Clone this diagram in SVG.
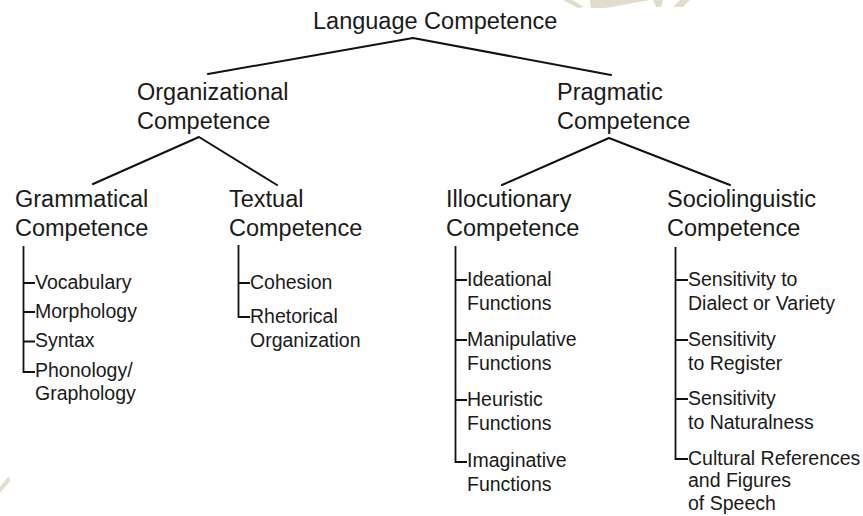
<svg xmlns="http://www.w3.org/2000/svg" width="863" height="516" viewBox="0 0 863 516">
<style>
.h{font-family:"Liberation Sans",Arial,sans-serif;font-size:23.5px;fill:#1a1a1a}
.i{font-family:"Liberation Sans",Arial,sans-serif;font-size:19.5px;fill:#1a1a1a}
.c{fill:none;stroke:#111;stroke-width:2;stroke-linecap:round;stroke-linejoin:round}
.b{fill:none;stroke:#111;stroke-width:1.8;stroke-linecap:butt;stroke-linejoin:miter}
.w{fill:#e2dccb}
</style>
<rect width="863" height="516" fill="#ffffff"/>
<g id="watermark">
<polygon class="w" points="563,0 572,0 584,7 578,8"/>
<polygon class="w" points="590,0 650,0 605,8 591,8"/>
<polygon class="w" points="653,0 663,0 661,7 656,7"/>
<polygon class="w" points="680,0 690,0 683,7 673,7"/>
<polygon class="w" points="0,487 9,476 10,481 0,493"/>
</g>
<g id="connectors">
<polyline class="c" points="208,74 413,38 611,75"/>
<polyline class="c" points="93,184 199,137 277,185"/>
<polyline class="c" points="502,185 609,138 730,185"/>
<path class="b" d="M23.5,246 V372 H35 M23.5,283 H35 M23.5,312 H35 M23.5,341.5 H35"/>
<path class="b" d="M238.5,245 V317 H250 M238.5,283 H250"/>
<path class="b" d="M455.5,246 V462 H467 M455.5,280 H467 M455.5,340 H467 M455.5,400 H467"/>
<path class="b" d="M675.5,247 V459 H688 M675.5,280 H688 M675.5,340 H688 M675.5,399 H688"/>
</g>
<g id="n-language"><text class="h" x="313" y="29">Language Competence</text></g>
<g id="n-organizational"><text class="h" x="137" y="100">Organizational</text><text class="h" x="137" y="129">Competence</text></g>
<g id="n-pragmatic"><text class="h" x="557" y="100">Pragmatic</text><text class="h" x="557" y="129">Competence</text></g>
<g id="n-grammatical"><text class="h" x="15" y="207">Grammatical</text><text class="h" x="15" y="236">Competence</text></g>
<g id="n-textual"><text class="h" x="229" y="207">Textual</text><text class="h" x="229" y="236">Competence</text></g>
<g id="n-illocutionary"><text class="h" x="446" y="207">Illocutionary</text><text class="h" x="446" y="236">Competence</text></g>
<g id="n-sociolinguistic"><text class="h" x="667" y="207">Sociolinguistic</text><text class="h" x="667" y="236">Competence</text></g>
<g id="n-grammatical-items">
<text class="i" x="35" y="289">Vocabulary</text>
<text class="i" x="35" y="318">Morphology</text>
<text class="i" x="35" y="347">Syntax</text>
<text class="i" x="35" y="377">Phonology/</text>
<text class="i" x="35" y="400">Graphology</text>
</g>
<g id="n-textual-items">
<text class="i" x="250" y="289">Cohesion</text>
<text class="i" x="250" y="323">Rhetorical</text>
<text class="i" x="250" y="347">Organization</text>
</g>
<g id="n-illocutionary-items">
<text class="i" x="467" y="286">Ideational</text>
<text class="i" x="467" y="309.5">Functions</text>
<text class="i" x="467" y="346">Manipulative</text>
<text class="i" x="467" y="369.5">Functions</text>
<text class="i" x="467" y="406">Heuristic</text>
<text class="i" x="467" y="429.5">Functions</text>
<text class="i" x="467" y="467">Imaginative</text>
<text class="i" x="467" y="490.5">Functions</text>
</g>
<g id="n-sociolinguistic-items">
<text class="i" x="688" y="286">Sensitivity to</text>
<text class="i" x="688" y="309.5">Dialect or Variety</text>
<text class="i" x="688" y="346">Sensitivity</text>
<text class="i" x="688" y="369.5">to Register</text>
<text class="i" x="688" y="405">Sensitivity</text>
<text class="i" x="688" y="428.5">to Naturalness</text>
<text class="i" x="688" y="465">Cultural References</text>
<text class="i" x="688" y="487">and Figures</text>
<text class="i" x="688" y="510">of Speech</text>
</g>
</svg>
